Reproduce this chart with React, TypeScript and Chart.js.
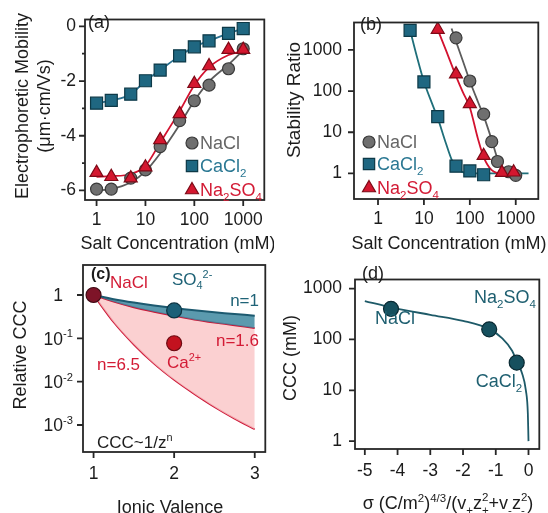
import React, { useEffect, useRef } from 'react';
import { Chart, registerables } from 'chart.js';
import { drawPoint } from 'chart.js/helpers';

Chart.register(...registerables);

const FONT = "'Liberation Sans', Arial, Helvetica, sans-serif";
const TXT = '#1c1c1c';
const AXIS = '#262626';

// colours
const GRAY_F = '#6f6f6f', GRAY_B = '#3a3a3a', GRAY_L = '#5c5c5c', GRAY_T = '#666666';
const TEAL_F = '#1f6781', TEAL_B = '#0d3947', TEAL_L = '#2a7190', TEAL_T = '#2b7893';
const RED_F = '#d4172f', RED_B = '#7d0a17', RED_L = '#d3122f', RED_T = '#d31b35';

// ---------------- Panel (a): electrophoretic mobility ----------------
const concA = [1, 2, 5, 10, 20, 50, 100, 200, 500, 1000];
const mobNaCl = [-5.95, -5.95, -5.55, -5.25, -4.4, -3.45, -2.72, -2.15, -1.55, -0.82];
const mobCaCl2 = [-2.81, -2.71, -2.48, -1.99, -1.6, -1.08, -0.75, -0.53, -0.26, -0.08];
const mobNa2SO4 = [-5.35, -5.5, -5.55, -5.15, -4.15, -3.2, -2.1, -1.45, -0.85, -0.85];
const fitNaClA = [-6.0, -5.95, -5.7, -5.3, -4.65, -3.6, -2.72, -2.02, -1.4, -0.88];
const fitNa2SO4A = [-5.5, -5.48, -5.4, -5.1, -4.25, -3.1, -2.15, -1.5, -1.05, -0.9];
const xTicksA = [1, 10, 100, 1000];
const yTicksA = [0, -2, -4, -6];
const yMinorA = [-1, -3, -5];

// ---------------- Panel (b): stability ratio ----------------
const concB_CaCl2 = [5, 10, 20, 50, 100, 200];
const wB_CaCl2 = [2950, 166, 24, 1.5, 1.15, 0.93];
const concB_NaCl = [50, 100, 200, 300, 400, 700, 1000];
const wB_NaCl = [1950, 175, 27.5, 5.9, 1.95, 1.1, 0.9];
const concB_Na2SO4 = [20, 50, 100, 200, 500, 900];
const wB_Na2SO4 = [3100, 257, 49, 2.7, 1.05, 1.07];
const fitConcB_CaCl2 = [5, 7, 10, 15, 20, 30, 40, 50, 70, 100, 1900];
const fitWB_CaCl2 = [3000, 700, 170, 50, 22, 5.5, 2.2, 1.4, 1.08, 1.0, 1.0];
const fitConcB_Na2SO4 = [20, 30, 50, 70, 100, 150, 200, 300, 500, 1000];
const fitWB_Na2SO4 = [3100, 1000, 230, 95, 40, 7, 2.5, 1.2, 1.0, 1.0];
const fitConcB_NaCl = [40, 50, 70, 100, 150, 200, 300, 400, 500, 700, 1000];
const fitWB_NaCl = [3300, 1600, 550, 175, 55, 25, 6.5, 2.3, 1.4, 1.05, 1.0];
const xTicksB = [1, 10, 100, 1000];
const yTicksB = [1, 10, 100, 1000];

// ---------------- Panel (c): relative CCC vs valence ----------------
const valenceC = [1, 1.25, 1.5, 1.75, 2, 2.25, 2.5, 2.75, 3];
const cccN1 = [1, 0.8, 0.667, 0.571, 0.5, 0.444, 0.4, 0.364, 0.333];
const cccN16 = [1, 0.7, 0.52, 0.41, 0.33, 0.27, 0.23, 0.2, 0.172];
const cccN65 = [1, 0.235, 0.072, 0.026, 0.011, 0.0052, 0.0026, 0.0014, 0.0008];
const pointNaClC = { x: 1, y: 1 };
const pointSO4C = { x: 2, y: 0.44 };
const pointCaC = { x: 2, y: 0.077 };
const xTicksC = [1, 2, 3];
const yTicksC = [1, 0.1, 0.01, 0.001];
const yTickExpC = ['', '-1', '-2', '-3'];

// ---------------- Panel (d): CCC vs surface charge ----------------
const sigmaD = [-4.2, -1.2, -0.36];
const cccD = [400, 158, 35];
const fitSigmaD = [-5, -4.2, -3, -2, -1.2, -0.8, -0.5, -0.36, -0.2, -0.08, -0.02, 0];
const fitCccD = [570, 430, 305, 232, 160, 105, 60, 37, 22, 10, 3.5, 1];
const xTicksD = [-5, -4, -3, -2, -1, 0];
const yTicksD = [1, 10, 100, 1000];

// ---------------- rich text helper ----------------
type Seg = { t: string; k?: 'sub' | 'sup' | 'subsup'; u?: string };
type RichItem = {
  x: number; y: number; segs: Seg[]; size: number; color: string;
  align?: 'left' | 'center' | 'right'; rot?: number; bold?: boolean;
};

function drawRich(ctx: CanvasRenderingContext2D, it: RichItem) {
  ctx.save();
  ctx.translate(it.x, it.y);
  if (it.rot) ctx.rotate(it.rot);
  ctx.fillStyle = it.color;
  ctx.textBaseline = 'alphabetic';
  ctx.textAlign = 'left';
  const wt = it.bold ? 'bold ' : '';
  const small = it.size * 0.64;
  const parts = it.segs.map((s) => {
    const fs = s.k ? small : it.size;
    ctx.font = `${wt}${fs}px ${FONT}`;
    let w = ctx.measureText(s.t).width;
    if (s.k === 'subsup' && s.u) w = Math.max(w, ctx.measureText(s.u).width);
    return { ...s, fs, w };
  });
  const total = parts.reduce((a, p) => a + p.w, 0);
  let cx = it.align === 'center' ? -total / 2 : it.align === 'right' ? -total : 0;
  const base = it.size * 0.36;
  for (const p of parts) {
    ctx.font = `${wt}${p.fs}px ${FONT}`;
    if (p.k === 'subsup') {
      ctx.fillText(p.t, cx, base + it.size * 0.25);
      if (p.u) ctx.fillText(p.u, cx, base - it.size * 0.45);
    } else {
      const dy = p.k === 'sub' ? it.size * 0.25 : p.k === 'sup' ? -it.size * 0.42 : 0;
      ctx.fillText(p.t, cx, base + dy);
    }
    cx += p.w;
  }
  ctx.restore();
}

const T = (t: string): Seg => ({ t });
const SUB = (t: string): Seg => ({ t, k: 'sub' });
const SUP = (t: string): Seg => ({ t, k: 'sup' });

type LegendItem = { x: number; y: number; style: string; r: number; fill: string; stroke: string; segs: Seg[]; color: string };

type AxisSpec = {
  type: 'linear' | 'logarithmic'; min: number; max: number; ticks: number[]; minor?: number[];
  pad: number; showLabels?: boolean;
};

type PanelSpec = {
  ox: number; oy: number; w: number; h: number;
  l: number; r: number; t: number; b: number; // chart area (page coords)
  xs: AxisSpec; ys: AxisSpec;
  datasets: any[];
  texts: RichItem[];
  legend?: LegendItem[];
  extra?: (chart: any, ctx: CanvasRenderingContext2D) => void;
};

function scaleOpts(ax: AxisSpec, horizontal: boolean, size: number) {
  return {
    type: ax.type,
    min: ax.min,
    max: ax.max,
    afterFit: (s: any) => {
      if (horizontal) s.height = size; else s.width = size;
    },
    afterBuildTicks: (s: any) => {
      s.ticks = ax.ticks.map((v) => ({ value: v }));
    },
    ticks: {
      display: ax.showLabels !== false,
      autoSkip: false,
      maxRotation: 0,
      minRotation: 0,
      padding: ax.pad,
      color: TXT,
      font: { family: FONT, size: 17.5 },
      callback: (v: any) => String(v),
    },
    grid: { display: false, drawTicks: false },
    border: { display: false },
    title: { display: false },
  };
}

function decorPlugin(p: PanelSpec) {
  return {
    id: 'decor',
    afterDraw(chart: any) {
      const ctx: CanvasRenderingContext2D = chart.ctx;
      const a = chart.chartArea;
      const sx = chart.scales.x;
      const sy = chart.scales.y;
      ctx.save();
      ctx.strokeStyle = AXIS;
      ctx.lineWidth = 1.8;
      ctx.strokeRect(a.left, a.top, a.right - a.left, a.bottom - a.top);
      ctx.beginPath();
      for (const v of p.xs.ticks) {
        const px = sx.getPixelForValue(v);
        ctx.moveTo(px, a.bottom);
        ctx.lineTo(px, a.bottom + 6);
      }
      for (const v of p.xs.minor || []) {
        const px = sx.getPixelForValue(v);
        ctx.moveTo(px, a.bottom);
        ctx.lineTo(px, a.bottom + 3);
      }
      for (const v of p.ys.ticks) {
        const py = sy.getPixelForValue(v);
        ctx.moveTo(a.left, py);
        ctx.lineTo(a.left - 6, py);
      }
      for (const v of p.ys.minor || []) {
        const py = sy.getPixelForValue(v);
        ctx.moveTo(a.left, py);
        ctx.lineTo(a.left - 3, py);
      }
      ctx.stroke();
      if (p.extra) p.extra(chart, ctx);
      ctx.translate(-p.ox, -p.oy);
      for (const it of p.legend || []) {
        ctx.save();
        ctx.fillStyle = it.fill;
        ctx.strokeStyle = it.stroke;
        ctx.lineWidth = 1.2;
        drawPoint(ctx, { pointStyle: it.style as any, radius: it.r, rotation: 0, borderWidth: 1.2 } as any, it.x, it.y);
        ctx.restore();
        drawRich(ctx, { x: it.x + 8, y: it.y, segs: it.segs, size: 18, color: it.color });
      }
      for (const it of p.texts) drawRich(ctx, it);
      ctx.restore();
    },
  };
}

function makeConfig(p: PanelSpec): any {
  return {
    type: 'scatter',
    data: { datasets: p.datasets },
    options: {
      responsive: false,
      animation: false,
      events: [],
      layout: { padding: { left: 0, top: p.t - p.oy, right: p.ox + p.w - p.r, bottom: 0 } },
      scales: {
        x: scaleOpts(p.xs, true, p.oy + p.h - p.b),
        y: scaleOpts(p.ys, false, p.l - p.ox),
      },
      plugins: { legend: { display: false }, tooltip: { enabled: false } },
    },
    plugins: [decorPlugin(p)],
  };
}

const pts = (xs: number[], ys: number[]) => xs.map((x, i) => ({ x, y: ys[i] }));

function markers(xs: number[], ys: number[], style: string, r: number, fill: string, stroke: string) {
  return {
    data: pts(xs, ys), showLine: false, pointStyle: style, pointRadius: r,
    pointBackgroundColor: fill, pointBorderColor: stroke, pointBorderWidth: 1.2, order: 0,
  };
}
function curve(xs: number[], ys: number[], color: string, width = 1.8, extra: any = {}) {
  return {
    data: pts(xs, ys), showLine: true, pointRadius: 0, borderColor: color, borderWidth: width,
    cubicInterpolationMode: 'monotone', fill: false, order: 1, ...extra,
  };
}

const ROT = -Math.PI / 2;

const panelA: PanelSpec = {
  ox: 0, oy: 0, w: 274, h: 256, l: 85, r: 272, t: 12, b: 200,
  xs: { type: 'logarithmic', min: 0.58, max: 2700, ticks: xTicksA, pad: 10 },
  ys: { type: 'linear', min: -6.35, max: 0.25, ticks: yTicksA, minor: yMinorA, pad: 9 },
  datasets: [
    markers(concA, mobNa2SO4, 'triangle', 7.5, RED_F, RED_B),
    markers(concA, mobCaCl2, 'rect', 8.5, TEAL_F, TEAL_B),
    markers(concA, mobNaCl, 'circle', 6, GRAY_F, GRAY_B),
    curve(concA, fitNaClA, GRAY_L),
    curve(concA, fitNa2SO4A, RED_L),
    curve(concA, mobCaCl2, TEAL_L),
  ],
  legend: [
    { x: 192, y: 143, style: 'circle', r: 6, fill: GRAY_F, stroke: GRAY_B, segs: [T('NaCl')], color: GRAY_T },
    { x: 192, y: 166, style: 'rect', r: 8, fill: TEAL_F, stroke: TEAL_B, segs: [T('CaCl'), SUB('2')], color: TEAL_T },
    { x: 192, y: 190, style: 'triangle', r: 7.5, fill: RED_F, stroke: RED_B, segs: [T('Na'), SUB('2'), T('SO'), SUB('4')], color: RED_T },
  ],
  texts: [
    { x: 88, y: 22, segs: [T('(a)')], size: 18, color: TXT },
    { x: 22, y: 106, segs: [T('Electrophoretic Mobility')], size: 18, color: TXT, align: 'center', rot: ROT },
    { x: 44, y: 106, segs: [T('(μm·cm/Vs)')], size: 18, color: TXT, align: 'center', rot: ROT },
    { x: 178, y: 243, segs: [T('Salt Concentration (mM)')], size: 18, color: TXT, align: 'center' },
  ],
};

const panelB: PanelSpec = {
  ox: 274, oy: 0, w: 274, h: 256, l: 354, r: 542, t: 12, b: 199,
  xs: { type: 'logarithmic', min: 0.31, max: 3100, ticks: xTicksB, pad: 10 },
  ys: { type: 'logarithmic', min: 0.24, max: 4600, ticks: yTicksB, pad: 12 },
  datasets: [
    markers(concB_Na2SO4, wB_Na2SO4, 'triangle', 7.5, RED_F, RED_B),
    markers(concB_CaCl2, wB_CaCl2, 'rect', 8.5, TEAL_F, TEAL_B),
    markers(concB_NaCl, wB_NaCl, 'circle', 6, GRAY_F, GRAY_B),
    curve(fitConcB_NaCl, fitWB_NaCl, GRAY_L),
    curve(fitConcB_Na2SO4, fitWB_Na2SO4, RED_L),
    curve(fitConcB_CaCl2, fitWB_CaCl2, '#1f6f7a'),
  ],
  legend: [
    { x: 369, y: 142, style: 'circle', r: 6, fill: GRAY_F, stroke: GRAY_B, segs: [T('NaCl')], color: GRAY_T },
    { x: 369, y: 164, style: 'rect', r: 8, fill: TEAL_F, stroke: TEAL_B, segs: [T('CaCl'), SUB('2')], color: TEAL_T },
    { x: 369, y: 188, style: 'triangle', r: 7.5, fill: RED_F, stroke: RED_B, segs: [T('Na'), SUB('2'), T('SO'), SUB('4')], color: RED_T },
  ],
  texts: [
    { x: 360, y: 24, segs: [T('(b)')], size: 18, color: TXT },
    { x: 293, y: 100, segs: [T('Stability Ratio')], size: 19, color: TXT, align: 'center', rot: ROT },
    { x: 449, y: 243, segs: [T('Salt Concentration (mM)')], size: 18, color: TXT, align: 'center' },
  ],
};

const C_TEAL_L = '#1d5a70', C_RED_L = '#cc1535';

const panelC: PanelSpec = {
  ox: 0, oy: 256, w: 274, h: 257, l: 83, r: 273, t: 265, b: 452,
  xs: { type: 'linear', min: 0.869, max: 3.131, ticks: xTicksC, pad: 12 },
  ys: { type: 'logarithmic', min: 2.38e-4, max: 4.92, ticks: yTicksC, pad: 8, showLabels: false },
  datasets: [
    curve(valenceC, cccN1, C_TEAL_L, 2, { fill: 1, backgroundColor: 'rgba(62,136,160,0.85)', cubicInterpolationMode: 'default', tension: 0.3 }),
    curve(valenceC, cccN16, C_RED_L, 1.8, { fill: 2, backgroundColor: 'rgba(250,196,198,0.8)', cubicInterpolationMode: 'default', tension: 0.3 }),
    curve(valenceC, cccN65, C_RED_L, 1.8, { cubicInterpolationMode: 'default', tension: 0.3 }),
    markers([pointNaClC.x], [pointNaClC.y], 'circle', 7.5, '#7e1428', '#3f0a14'),
    markers([pointSO4C.x], [pointSO4C.y], 'circle', 7.5, '#1b6078', '#0c3342'),
    markers([pointCaC.x], [pointCaC.y], 'circle', 7.5, '#c3121f', '#6e0a12'),
  ],
  texts: [
    { x: 91, y: 273, segs: [T('(c)')], size: 16, color: TXT, bold: true },
    { x: 110, y: 282, segs: [T('NaCl')], size: 17, color: RED_T },
    { x: 172, y: 279, segs: [T('SO'), SUB('4'), SUP('2-')], size: 17, color: '#1f6377' },
    { x: 259, y: 300, segs: [T('n=1')], size: 17, color: '#1f6377', align: 'right' },
    { x: 259, y: 340, segs: [T('n=1.6')], size: 17, color: RED_T, align: 'right' },
    { x: 97, y: 364, segs: [T('n=6.5')], size: 17, color: RED_T },
    { x: 167, y: 362, segs: [T('Ca'), SUP('2+')], size: 17, color: RED_T },
    { x: 97, y: 442, segs: [T('CCC~1/z'), SUP('n')], size: 17, color: TXT },
    { x: 20, y: 355, segs: [T('Relative CCC')], size: 18, color: TXT, align: 'center', rot: ROT },
    { x: 170, y: 507, segs: [T('Ionic Valence')], size: 18, color: TXT, align: 'center' },
  ],
  extra: (chart, ctx) => {
    const sy = chart.scales.y;
    yTicksC.forEach((v, i) => {
      const py = sy.getPixelForValue(v);
      if (i === 0) {
        drawRich(ctx, { x: 63, y: py, segs: [T('1')], size: 17.5, color: TXT, align: 'right' });
      } else {
        drawRich(ctx, { x: 73, y: py, segs: [T('10'), SUP(yTickExpC[i])], size: 17.5, color: TXT, align: 'right' });
      }
    });
  },
};

const D_COL = '#1e5f70';

const panelD: PanelSpec = {
  ox: 274, oy: 256, w: 274, h: 257, l: 355, r: 542, t: 264, b: 449,
  xs: { type: 'linear', min: -5.3, max: 0.33, ticks: xTicksD, pad: 12 },
  ys: { type: 'logarithmic', min: 0.718, max: 1513, ticks: yTicksD, pad: 13 },
  datasets: [
    markers(sigmaD, cccD, 'circle', 7.5, '#16505e', '#0a2a33'),
    curve(fitSigmaD, fitCccD, '#1e5a68', 1.8),
  ],
  texts: [
    { x: 362, y: 273, segs: [T('(d)')], size: 18, color: TXT },
    { x: 395, y: 318, segs: [T('NaCl')], size: 18, color: D_COL, align: 'center' },
    { x: 505, y: 297, segs: [T('Na'), SUB('2'), T('SO'), SUB('4')], size: 18, color: D_COL, align: 'center' },
    { x: 499, y: 381, segs: [T('CaCl'), SUB('2')], size: 18, color: D_COL, align: 'center' },
    { x: 290, y: 358, segs: [T('CCC (mM)')], size: 18, color: TXT, align: 'center', rot: ROT },
    {
      x: 448, y: 503, size: 18, color: TXT, align: 'center',
      segs: [T('σ (C/m'), SUP('2'), T(')'), SUP('4/3'), T('/(v'), { t: '+', k: 'subsup', u: '' }, T('z'), { t: '+', k: 'subsup', u: '2' }, T('+v'), { t: '-', k: 'subsup', u: '' }, T('z'), { t: '-', k: 'subsup', u: '2' }, T(')')],
    },
  ],
};

function Panel({ spec }: { spec: PanelSpec }) {
  const ref = useRef<HTMLCanvasElement | null>(null);
  useEffect(() => {
    if (!ref.current) return;
    const chart = new Chart(ref.current, makeConfig(spec));
    return () => chart.destroy();
  }, [spec]);
  return (
    <div style={{ position: 'absolute', left: spec.ox, top: spec.oy, width: spec.w, height: spec.h }}>
      <canvas ref={ref} width={spec.w} height={spec.h} style={{ display: 'block', width: spec.w, height: spec.h }} />
    </div>
  );
}

export default function App() {
  return (
    <div style={{ position: 'fixed', left: 0, top: 0, width: 548, height: 513, background: '#ffffff', overflow: 'hidden' }}>
      <Panel spec={panelA} />
      <Panel spec={panelB} />
      <Panel spec={panelC} />
      <Panel spec={panelD} />
    </div>
  );
}
